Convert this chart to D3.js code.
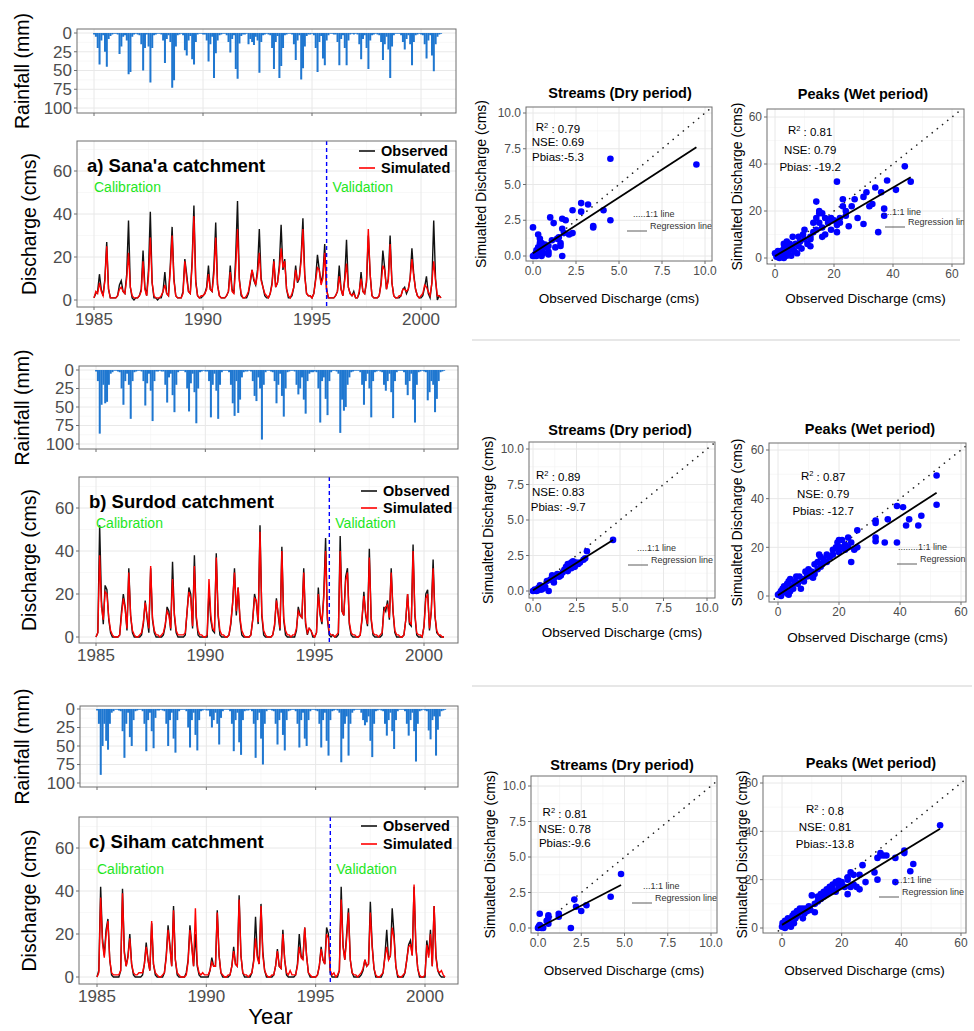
<!DOCTYPE html>
<html>
<head>
<meta charset="utf-8">
<script src="https://cdn.jsdelivr.net/npm/d3@7"></script>
<style>
  body { margin: 0; background: #fff; }
  svg { display: block; }
  text { font-family: "Liberation Sans", Arial, sans-serif; }
</style>
</head>
<body>
<svg id="fig" width="974" height="1031"></svg>
<script>
// ---- data (monthly, Jan 1985 .. Dec 2000, one row per year) ----
const yearTicks = [1985, 1990, 1995, 2000];
const rainTicks = [0, 25, 50, 75, 100];
const qTicks = [0, 20, 40, 60];
const splitYear = 1995.67;

const sanaaRain = [
  2,5,20,42,10,3,25,45,8,4,2,1,  1,2,28,18,5,3,10,55,52,5,2,1,
  2,3,15,50,20,2,18,66,20,3,2,1,  1,2,10,40,8,3,12,73,63,18,3,2,
  1,3,23,30,10,4,35,42,12,2,1,1,  2,2,10,38,15,5,60,27,10,3,2,1,
  1,3,12,26,8,3,48,61,14,4,2,2,  1,15,8,12,16,5,10,53,12,3,2,1,
  2,3,20,48,12,4,60,44,20,3,2,1,  1,2,15,36,10,3,62,47,18,4,2,2,
  1,3,20,52,12,4,34,43,10,3,1,1,  2,2,12,43,8,3,20,43,10,2,1,2,
  1,2,15,35,8,3,20,48,10,3,2,1,  2,3,12,36,15,5,22,60,18,3,1,1,
  1,3,12,22,8,3,15,43,12,3,2,1,  2,3,15,34,10,3,30,51,15,5,2,1
];
const sanaaObs = [
  1,3,4,12,5,2,10,27,5,1,1,1,  1,2,7,9,4,3,12,37,6,1,0,1,
  1,2,5,23,6,2,14,41,8,1,1,0,  1,1,4,13,3,2,16,34,10,2,1,1,
  1,4,19,12,4,3,18,44,9,2,1,1,  2,3,6,16,5,4,15,36,7,2,1,1,
  1,2,4,16,5,3,20,46,10,2,1,1,  1,3,8,14,9,7,14,33,10,6,2,1,
  1,3,8,19,6,8,16,35,14,19,5,1,  1,2,6,16,8,10,20,38,12,3,2,2,
  1,3,10,21,14,8,12,26,5,1,1,1,  1,2,4,16,5,2,10,28,6,3,2,4,
  1,1,3,13,4,3,8,30,12,2,1,1,  1,2,8,23,15,5,10,30,8,2,1,1,
  1,2,5,6,3,5,10,24,12,5,2,1,  1,2,6,11,3,1,8,37,10,0,2,1
];
const sanaaSim = [
  1,4,3,8,4,2,9,25,5,1,1,1,  1,2,5,6,4,3,10,22,6,2,1,1,
  1,2,4,18,5,2,11,29,8,2,1,1,  1,2,4,7,3,2,14,30,9,2,1,1,
  1,3,18,10,4,3,16,39,8,2,1,2,  2,3,5,12,5,4,12,29,7,2,1,1,
  1,2,4,13,4,3,15,33,9,3,1,1,  2,4,9,14,10,7,12,22,9,6,3,2,
  1,3,7,18,6,8,14,24,15,18,5,2,  1,3,6,14,9,10,18,33,11,3,2,2,
  1,3,9,15,14,7,10,22,5,1,1,1,  1,2,4,11,5,2,9,17,6,3,2,3,
  1,1,4,10,4,3,9,33,12,2,1,1,  1,2,7,16,14,5,9,26,8,2,1,1,
  2,2,5,5,4,5,10,19,11,5,2,1,  2,3,7,6,4,2,8,18,9,2,2,1
];

const surdodRain = [
  2,15,86,47,20,45,43,20,5,3,1,1,  2,3,25,47,15,5,20,66,15,3,2,1,
  1,2,15,48,18,5,28,69,15,2,2,1,  2,2,20,44,10,5,34,57,20,3,1,1,
  1,3,25,56,18,5,30,72,25,3,2,1,  2,2,15,64,20,5,28,66,20,3,1,1,
  1,3,20,45,62,15,58,40,10,3,2,2,  1,2,15,35,42,10,25,94,20,3,1,1,
  2,3,15,45,20,5,35,63,25,3,2,1,  1,2,20,33,25,10,40,59,15,5,3,3,
  2,3,25,71,15,10,39,61,15,3,1,1,  2,5,85,40,55,50,20,10,3,2,1,1,
  1,3,20,47,15,5,25,64,15,3,2,1,  2,3,20,28,15,5,30,65,15,3,1,1,
  1,3,20,34,15,5,40,71,20,3,2,1,  2,3,41,30,15,20,57,39,15,3,2,1
];
const surdodObs = [
  0,2,52,17,6,24,22,8,2,0,0,0,  0,1,12,20,14,3,32,10,2,0,0,0,
  0,1,6,17,9,2,32,8,2,0,0,0,  0,1,5,14,12,3,35,10,2,0,0,0,
  0,1,12,23,20,4,38,9,1,0,0,0,  0,0,22,8,3,2,39,10,1,0,0,0,
  0,1,6,16,32,10,23,8,1,0,0,0,  0,1,8,20,16,6,52,10,1,0,0,0,
  0,1,5,18,10,3,42,8,1,0,0,0,  0,0,3,14,10,9,32,6,1,4,3,0,
  0,2,23,10,6,20,46,8,1,0,1,0,  0,1,47,12,10,28,32,6,1,0,0,0,
  0,1,8,21,10,5,41,8,1,0,0,0,  0,1,14,12,17,8,32,12,2,0,0,0,
  0,1,8,20,6,5,43,10,1,0,0,0,  5,20,22,3,12,36,10,2,1,0,0,0
];
const surdodSim = [
  0,2,38,14,8,21,20,9,3,1,0,0,  0,1,10,18,13,4,30,10,3,1,0,0,
  1,2,7,16,10,4,33,9,3,1,1,0,  1,2,6,12,10,4,27,11,3,1,1,1,
  1,2,12,21,18,5,33,10,3,1,1,0,  0,1,27,10,4,3,37,11,3,1,1,0,
  0,1,7,16,30,12,23,9,3,1,0,0,  0,1,8,18,17,7,49,11,3,1,0,0,
  0,1,6,17,11,4,40,9,3,1,1,0,  1,1,4,12,10,9,30,7,2,4,3,1,
  0,2,20,11,7,18,40,9,2,1,1,0,  1,2,40,12,10,26,30,7,2,1,1,0,
  0,1,9,19,11,6,37,9,2,1,1,0,  1,2,12,14,15,9,30,12,3,1,1,0,
  0,1,8,20,7,6,40,11,2,1,1,0,  5,18,20,4,12,32,10,3,1,1,0,0
];

const sihamRain = [
  2,20,89,50,20,43,55,20,5,3,1,1,  2,3,30,66,20,5,38,50,15,3,2,1,
  1,3,20,57,15,5,30,53,12,2,2,1,  2,3,20,50,15,5,40,59,15,3,1,1,
  1,3,25,52,15,5,35,56,15,3,2,1,  2,2,10,25,15,5,20,48,12,3,1,1,
  1,3,20,57,15,5,45,62,15,3,2,2,  1,3,20,66,15,5,40,75,20,3,1,1,
  2,3,20,48,15,5,35,56,15,3,2,1,  1,3,20,52,15,5,40,50,15,3,1,1,
  2,3,20,52,15,5,43,63,15,3,2,1,  2,5,72,40,20,10,63,20,5,2,1,1,
  1,5,15,22,18,10,43,65,20,3,2,1,  2,3,20,36,15,5,30,54,15,3,1,1,
  1,3,20,36,15,5,30,71,20,3,2,1,  2,3,29,41,15,10,63,28,10,3,2,1
];
const sihamObs = [
  0,3,42,18,10,22,27,8,1,0,0,0,  0,3,41,12,5,10,20,6,1,0,0,0,
  0,1,6,16,8,3,25,6,1,0,0,0,  0,2,10,24,15,5,33,8,1,0,0,0,
  0,2,8,24,15,5,20,5,1,0,0,0,  0,0,3,9,5,5,31,10,2,0,0,0,
  0,1,5,14,6,5,38,10,2,0,0,0,  0,2,8,28,10,6,34,12,3,0,0,0,
  0,1,5,13,5,4,22,8,1,0,0,0,  0,1,6,20,10,8,23,10,2,0,0,0,
  0,1,5,14,8,6,23,20,2,0,0,0,  0,3,42,15,8,20,32,8,2,0,0,0,
  0,1,3,8,5,6,35,15,4,0,0,0,  0,2,10,22,8,10,32,20,5,0,0,0,
  0,2,8,15,17,10,42,14,4,0,0,0,  0,17,10,22,5,33,10,3,1,0,0,0
];
const sihamSim = [
  0,2,37,16,9,20,26,8,2,1,1,1,  1,3,39,11,5,9,18,6,2,1,1,2,
  2,2,6,14,8,3,26,6,2,1,0,0,  1,2,9,22,14,5,31,8,2,1,0,0,
  0,1,7,22,14,5,32,6,2,1,2,1,  1,1,3,7,5,5,30,10,2,1,0,0,
  1,1,5,12,6,5,36,10,2,1,1,0,  1,2,7,18,9,6,33,10,3,1,0,0,
  1,1,5,12,5,4,20,8,2,1,3,1,  1,1,5,14,9,8,23,10,2,1,0,0,
  0,1,5,13,8,6,20,18,3,1,2,0,  1,3,36,14,8,18,30,8,2,1,1,0,
  1,2,4,8,5,6,30,14,4,1,0,0,  1,2,9,14,8,10,23,18,5,1,0,0,
  1,2,8,14,15,10,43,14,4,1,0,0,  1,15,9,20,5,33,9,3,2,3,1,0
];

// scatter points [observed, simulated]
const streamsSanaa = [[0,2.0],[0,0],[0.1,0.1],[0.2,0.2],[0.3,1.5],[0.4,0.3],[0.4,1.2],[0.5,0.5],[0.5,0.9],[0.3,0.6],
  [0.2,0],[0.6,0.2],[0.7,0.8],[0.8,0.6],[0.9,0.1],[0.9,0.3],[0.9,0.7],[1.0,2.7],[1.2,2.3],[1.3,0.6],[1.4,1.2],
  [1.5,1.3],[1.6,0.7],[1.6,0.9],[1.7,0],[1.7,1.9],[1.7,2.6],[1.8,1.6],[1.9,2.5],[2.1,1.5],[2.3,3.2],[2.3,1.6],
  [2.8,3.7],[2.8,3.1],[3.2,3.6],[3.5,2.0],[3.5,2.1],[4.1,3.2],[4.5,2.5],[4.5,6.8],[9.5,6.4],[0.1,0.0],[0.3,0.1],
  [0.6,0.7],[0.5,0.0],[0.2,0.4],[1.1,1.1],[0.4,0.9]];
const peaksSanaa = [[0,2],[0.5,0.5],[1,1],[1.5,0],[2,3],[2,1],[2.5,2],[3,4],[3,6],[3.5,2],[4,5],[4,7],[4.5,3],
  [5,6],[5,4],[5.5,1],[6,9],[6,5],[6.5,3],[7,6],[7.5,2],[8,5],[8.5,7],[9,4],[9.5,10],[10,12],[10,8],[1,3],[3,0],
  [4,1],[11,6],[12,9],[12,8],[13,15],[13,11],[14,24],[14,17],[14,12],[15,19],[15,15],[16,13],[16,19],[16,9],
  [17,10],[17,17],[18,15],[19,17],[15,20],[12,5],[21,32.5],[21,14],[21,11],[22,17],[22,15],[23,25],[23,22],
  [24,18],[24,20],[25,13.5],[26,22],[27,25],[28,17],[30,14.5],[30,26],[31,28],[32,22],[33,23],[34,30],[35,11],
  [36,28],[37,21],[37,18],[38,33],[41,29],[44,39],[46,32.5],[20,16],[19,12],[8,9]];
const streamsSurdod = [[0,0],[0.1,0.1],[0.2,0],[0.3,0.2],[0.4,0.4],[0.5,0.3],[0.5,0.1],[0.6,0.2],[0.7,0.3],
  [0.8,0.7],[0.9,0],[1.0,0.8],[1.1,1.1],[1.2,0.6],[1.2,0.9],[1.4,1.2],[1.5,1.0],[1.6,1.1],[1.8,1.5],[1.9,1.7],
  [2.0,1.9],[2.0,1.4],[2.1,1.8],[2.2,2.0],[2.2,1.6],[2.3,2.1],[2.4,1.7],[2.5,2.0],[2.7,2.0],[2.9,2.2],[3.0,2.3],
  [3.1,2.8],[4.6,3.6],[0.3,0.05],[1.7,1.3],[2.6,1.9]];
const peaksSurdod = [[0,0.5],[0.5,1],[1,2],[1.5,3],[2,4],[2.5,3],[3,1],[3,5],[3.5,6],[4,2],[4,7],[4.5,4],[5,3],
  [5.5,6],[6,8],[6.5,5],[7,8],[7.5,3],[8,7],[8.5,6],[9,10],[9.5,8],[10,11],[10,9],[1,0],[2,2],[3.5,0.5],[6,5.5],
  [11,8],[11,10],[12,13],[12,9],[13,14],[13,11],[13.5,17],[14,12],[14.5,13],[15,15],[16,17],[16,14],[17,16],
  [18,19],[18,17],[19,20],[19.5,22],[20,23],[20,18],[11.5,7.5],[14,16],[21,23],[22,21],[22,19],[23,24],[23,20],
  [24,22],[24,14],[25,19],[26,27],[26,20],[20.5,20],[32,31],[32,30],[32,24],[32,22.5],[35,22],[36,31.5],[39,22],
  [39,37],[41,36.5],[42,29],[43,31.5],[46,29],[47,33],[52,49.5],[52,37.5]];
const streamsSiham = [[0,0],[0.05,0.1],[0.1,1.0],[0.1,0.2],[0.2,0.0],[0.2,0.1],[0.3,0],[0.5,0.5],[0.6,0.9],
  [0.6,0.7],[0.6,0.3],[1.2,1.0],[1.2,0.8],[1.9,0.0],[2.1,2.0],[2.2,1.5],[2.5,1.2],[2.8,1.6],[4.2,2.2],[4.8,3.8]];
const peaksSiham = [[0,0.5],[0.2,2],[0.5,1],[1,0],[1,3],[1.5,2],[2,1],[2,4],[2.5,2.5],[3,3],[3.5,5],[4,2],[4,6],
  [4.5,4],[5,5],[5,7],[5.5,6],[6,8],[6.5,7],[7,8],[7,4],[7.5,6],[8,8],[8.5,7],[9,9],[9.5,7.5],[10,13.5],[3,0.5],
  [11,6.5],[11,10],[12,11],[12,13],[13,12],[13,14],[14,15],[14,13],[15,16],[15,14],[16,17],[16,15],[17,16],
  [17,18],[18,15],[18,19],[19,19.5],[19,17],[20,18],[20,19],[21,17],[22,14],[22,21],[22,20],[23,23],[23,17],
  [24,22],[24,18],[25,17],[26,16],[26,22],[27,26],[28,19],[31,23],[32,20],[32,29],[33,31],[33,30],[34,30],
  [35,30],[38,29],[38,19],[41,32],[41,31],[43,23.5],[44,26.5],[53,42.5]];

// regression lines: [intercept, slope]
const regSanaa = [[0.2, 0.78], [0.8, 0.73]];
const regSurdod = [[0.05, 0.77], [0.3, 0.81]];
const regSiham = [[0.0, 0.63], [1.3, 0.75]];
const statsSanaa = [["0.79", "NSE: 0.69", "Pbias:-5.3"], ["0.81", "NSE: 0.79", "Pbias: -19.2"]];
const statsSurdod = [["0.89", "NSE: 0.83", "Pbias: -9.7"], ["0.87", "NSE: 0.79", "Pbias: -12.7"]];
const statsSiham = [["0.81", "NSE: 0.78", "Pbias:-9.6"], ["0.8", "NSE: 0.81", "Pbias:-13.8"]];

// ---- drawing ----
const svg = d3.select("#fig");
const defs = svg.append("defs");
const GRID = "#e8e8e8", GRID2 = "#f3f3f3", BORDER = "#6e6e6e", TICK = "#4d4d4d";
let clipN = 0;

function clipFor(b) {
  const id = "clip" + (clipN++);
  defs.append("clipPath").attr("id", id).append("rect")
    .attr("x", b.l).attr("y", b.t).attr("width", b.r - b.l).attr("height", b.b - b.t);
  return "url(#" + id + ")";
}

function grid(g, b, x, y, xMaj, xMin, yMaj, yMin) {
  const inX = v => x(v) >= b.l && x(v) <= b.r, inY = v => y(v) >= b.t && y(v) <= b.b;
  xMin.filter(inX).forEach(v => g.append("line").attr("x1", x(v)).attr("x2", x(v)).attr("y1", b.t).attr("y2", b.b).attr("stroke", GRID2).attr("stroke-width", 0.6));
  yMin.filter(inY).forEach(v => g.append("line").attr("y1", y(v)).attr("y2", y(v)).attr("x1", b.l).attr("x2", b.r).attr("stroke", GRID2).attr("stroke-width", 0.6));
  xMaj.filter(inX).forEach(v => g.append("line").attr("x1", x(v)).attr("x2", x(v)).attr("y1", b.t).attr("y2", b.b).attr("stroke", GRID).attr("stroke-width", 1));
  yMaj.filter(inY).forEach(v => g.append("line").attr("y1", y(v)).attr("y2", y(v)).attr("x1", b.l).attr("x2", b.r).attr("stroke", GRID).attr("stroke-width", 1));
}

function border(g, b) {
  g.append("rect").attr("x", b.l).attr("y", b.t).attr("width", b.r - b.l).attr("height", b.b - b.t)
    .attr("fill", "none").attr("stroke", BORDER).attr("stroke-width", 1);
}

function yAxisLabels(g, b, y, ticks, fmt, size) {
  ticks.forEach(v => {
    g.append("line").attr("x1", b.l - 3).attr("x2", b.l).attr("y1", y(v)).attr("y2", y(v)).attr("stroke", BORDER);
    g.append("text").attr("x", b.l - 5).attr("y", y(v)).attr("dy", "0.35em").attr("text-anchor", "end")
      .attr("font-size", size).attr("fill", TICK).text(fmt(v));
  });
}

function xAxisLabels(g, b, x, ticks, fmt, size, labels) {
  ticks.forEach(v => {
    g.append("line").attr("x1", x(v)).attr("x2", x(v)).attr("y1", b.b).attr("y2", b.b + 3).attr("stroke", BORDER);
    if (labels) g.append("text").attr("x", x(v)).attr("y", b.b + 4 + size * 0.8).attr("text-anchor", "middle")
      .attr("font-size", size).attr("fill", TICK).text(fmt(v));
  });
}

function vLabel(g, x, y, txt, size) {
  g.append("text").attr("transform", `translate(${x},${y}) rotate(-90)`).attr("dy", "0.35em")
    .attr("text-anchor", "middle").attr("font-size", size).attr("fill", "#000").text(txt);
}

function timePanel(c) {
  const g = svg.append("g");
  const t = i => 1985 + i / 12;
  const x = d3.scaleLinear().domain([1985, 2000]).range(c.xr);
  const monthW = (x(1986) - x(1985)) / 12;

  // rainfall (reversed axis, bars hang from 0)
  const rb = c.rainBox;
  const yR = d3.scaleLinear().domain([0, 100]).range(c.rainY);
  grid(g, rb, x, yR, yearTicks, [1982.5, 1987.5, 1992.5, 1997.5, 2002.5], rainTicks, [12.5, 37.5, 62.5, 87.5]);
  g.append("g").attr("clip-path", clipFor(rb)).selectAll("rect").data(c.rain).join("rect")
    .attr("x", (d, i) => x(t(i)) - monthW * 0.5).attr("width", monthW + 0.2)
    .attr("y", yR(0)).attr("height", d => yR(d) - yR(0)).attr("fill", "#1f77d0");
  border(g, rb);
  yAxisLabels(g, rb, yR, rainTicks, d => d, 17);
  xAxisLabels(g, rb, x, yearTicks, d => d, 17, false);
  vLabel(g, 22, (rb.t + rb.b) / 2, "Rainfall (mm)", 19.5);

  // discharge
  const qb = c.qBox;
  const yQ = d3.scaleLinear().domain([0, 60]).range(c.qY);
  grid(g, qb, x, yQ, yearTicks, [1982.5, 1987.5, 1992.5, 1997.5, 2002.5], qTicks, [10, 30, 50, 70]);
  const pg = g.append("g").attr("clip-path", clipFor(qb));
  const line = d3.line().x((d, i) => x(t(i))).y(d => yQ(d));
  pg.append("path").datum(c.obs).attr("d", line).attr("fill", "none").attr("stroke", "#111").attr("stroke-width", 1.4);
  pg.append("path").datum(c.sim).attr("d", line).attr("fill", "none").attr("stroke", "#ff0000").attr("stroke-width", 1.4);
  pg.append("line").attr("x1", x(splitYear)).attr("x2", x(splitYear)).attr("y1", qb.t).attr("y2", qb.b)
    .attr("stroke", "#0000ff").attr("stroke-width", 1.4).attr("stroke-dasharray", "4,3");
  border(g, qb);
  yAxisLabels(g, qb, yQ, qTicks, d => d, 17);
  xAxisLabels(g, qb, x, yearTicks, d => d, 17, true);
  vLabel(g, 29, (qb.t + qb.b) / 2, "Discharge (cms)", 19.5);

  g.append("text").attr("x", qb.l + 10).attr("y", c.titleY).attr("font-size", 18.5).attr("font-weight", "bold").text(c.title);
  g.append("text").attr("x", x(1985)).attr("y", c.calY).attr("font-size", 14).attr("fill", "#1ee61e").text("Calibration");
  g.append("text").attr("x", x(splitYear) + 6).attr("y", c.calY).attr("font-size", 14).attr("fill", "#1ee61e").text("Validation");
  [["Observed", "#111", c.legY[0]], ["Simulated", "#ff0000", c.legY[1]]].forEach(([lab, col, ly]) => {
    g.append("line").attr("x1", qb.r - 97).attr("x2", qb.r - 81).attr("y1", ly).attr("y2", ly).attr("stroke", col).attr("stroke-width", 1.6);
    g.append("text").attr("x", qb.r - 75).attr("y", ly).attr("dy", "0.35em").attr("font-size", 14.5).attr("font-weight", "bold").text(lab);
  });
  if (c.xTitle) g.append("text").attr("x", (qb.l + qb.r) / 2 + 2).attr("y", c.xTitleY).attr("text-anchor", "middle").attr("font-size", 22).text("Year");
}

function scatterPanel(c) {
  const g = svg.append("g");
  const b = c.box;
  const x = d3.scaleLinear().domain([0, c.max]).range(c.xr);
  const y = d3.scaleLinear().domain([0, c.max]).range(c.yr);
  const step = c.max === 10 ? 2.5 : 20;
  const maj = d3.range(-step, c.max + 2 * step, step);
  const mnr = maj.map(v => v + step / 2);
  grid(g, b, x, y, maj, mnr, maj, mnr);
  const fmt = c.max === 10 ? d3.format(".1f") : d3.format("d");
  const ticks = d3.range(0, c.max + step / 2, step);

  const pg = g.append("g").attr("clip-path", clipFor(b));
  const lo = x.invert(b.l), hi = x.invert(b.r);
  pg.append("line").attr("x1", x(lo)).attr("y1", y(lo)).attr("x2", x(hi)).attr("y2", y(hi))
    .attr("stroke", "#222").attr("stroke-width", 1.6).attr("stroke-linecap", "round").attr("stroke-dasharray", "0.1,6.5");
  pg.selectAll("circle").data(c.pts).join("circle")
    .attr("cx", d => x(d[0])).attr("cy", d => y(d[1])).attr("r", 3.3).attr("fill", "#0000ff");
  const [a, s] = c.reg, xe = d3.extent(c.pts, d => d[0]);
  pg.append("line").attr("x1", x(xe[0])).attr("y1", y(a + s * xe[0])).attr("x2", x(xe[1])).attr("y2", y(a + s * xe[1]))
    .attr("stroke", "#000").attr("stroke-width", 1.8);

  // stats annotation
  const st = c.stats, sx = x(c.statX);
  const r2 = g.append("text").attr("x", sx).attr("y", y(c.statY[0])).attr("dy", "0.35em").attr("text-anchor", "middle").attr("font-size", 11.5);
  r2.append("tspan").text("R");
  r2.append("tspan").attr("font-size", 7.5).attr("dy", "-0.45em").text("2");
  r2.append("tspan").attr("dy", "0.45em").text(" : " + st[0]);
  g.append("text").attr("x", sx).attr("y", y(c.statY[1])).attr("dy", "0.35em").attr("text-anchor", "middle").attr("font-size", 11.5).text(st[1]);
  g.append("text").attr("x", sx).attr("y", y(c.statY[2])).attr("dy", "0.35em").attr("text-anchor", "middle").attr("font-size", 11.5).text(st[2]);

  // in-panel legend
  const lg = g.append("g").attr("clip-path", clipFor(b));
  lg.append("text").attr("x", c.leg[0]).attr("y", c.leg[1]).attr("dy", "0.35em").attr("font-size", 9).attr("fill", "#333").text(c.dots + "1:1 line");
  lg.append("line").attr("x1", c.leg[2]).attr("x2", c.leg[2] + 20).attr("y1", c.leg[3]).attr("y2", c.leg[3]).attr("stroke", "#333").attr("stroke-width", 0.8);
  lg.append("text").attr("x", c.leg[2] + 23).attr("y", c.leg[3] - 5).attr("dy", "0.35em").attr("font-size", 9).attr("fill", "#333").text("Regression line");

  border(g, b);
  yAxisLabels(g, b, y, ticks, fmt, 12);
  xAxisLabels(g, b, x, ticks, fmt, 12, true);
  g.append("text").attr("x", c.titleX).attr("y", c.titleY).attr("text-anchor", "middle").attr("font-size", 14.5).attr("font-weight", "bold").text(c.title);
  g.append("text").attr("x", (b.l + b.r) / 2).attr("y", c.xTitleY).attr("text-anchor", "middle").attr("font-size", 13.5).text("Observed Discharge (cms)");
  vLabel(g, c.yTitleX, (b.t + b.b) / 2, "Simualted Discharge (cms)", 14);
}

// ---- layout ----
timePanel({ title: "a) Sana'a catchment", rain: sanaaRain, obs: sanaaObs, sim: sanaaSim, xr: [94, 421],
  rainBox: { l: 77, t: 29, r: 456, b: 113 }, rainY: [33, 108],
  qBox: { l: 77, t: 141, r: 456, b: 307 }, qY: [300, 171],
  titleY: 172, calY: 192, legY: [151, 168] });
timePanel({ title: "b) Surdod catchment", rain: surdodRain, obs: surdodObs, sim: surdodSim, xr: [96, 424],
  rainBox: { l: 79, t: 366, r: 458, b: 449 }, rainY: [370, 444],
  qBox: { l: 79, t: 477, r: 458, b: 643 }, qY: [637, 508],
  titleY: 508, calY: 528, legY: [491, 508] });
timePanel({ title: "c) Siham catchment", rain: sihamRain, obs: sihamObs, sim: sihamSim, xr: [97, 425],
  rainBox: { l: 80, t: 706, r: 458, b: 787 }, rainY: [709, 783],
  qBox: { l: 79, t: 817, r: 458, b: 984 }, qY: [977, 848],
  titleY: 848, calY: 874, legY: [826, 844], xTitle: true, xTitleY: 1024 });

const sep = svg.append("g").attr("stroke", "#cfcfcf").attr("stroke-width", 1);
sep.append("line").attr("x1", 472).attr("x2", 960).attr("y1", 340).attr("y2", 340);
sep.append("line").attr("x1", 472).attr("x2", 972).attr("y1", 686).attr("y2", 686);

scatterPanel({ title: "Streams (Dry period)", max: 10, pts: streamsSanaa, reg: regSanaa[0], stats: statsSanaa[0],
  box: { l: 526, t: 107, r: 712, b: 261 }, xr: [533, 705], yr: [256, 113],
  statX: 1.45, statY: [9.0, 8.0, 6.9], dots: ".....", leg: [633, 214, 627, 231],
  titleX: 620, titleY: 98, xTitleY: 303, yTitleX: 481 });
scatterPanel({ title: "Peaks (Wet period)", max: 60, pts: peaksSanaa, reg: regSanaa[1], stats: statsSanaa[1],
  box: { l: 767, t: 109, r: 964, b: 264 }, xr: [775, 952], yr: [258, 117],
  statX: 11.9, statY: [54.5, 46, 38.7], dots: "....", leg: [882, 212, 885, 227],
  titleX: 863, titleY: 99, xTitleY: 303, yTitleX: 737 });
scatterPanel({ title: "Streams (Dry period)", max: 10, pts: streamsSurdod, reg: regSurdod[0], stats: statsSurdod[0],
  box: { l: 529, t: 442, r: 715, b: 598 }, xr: [533, 707], yr: [591, 449],
  statX: 1.45, statY: [8.15, 7.0, 5.9], dots: "....", leg: [637, 548, 628, 565],
  titleX: 620, titleY: 435, xTitleY: 637, yTitleX: 488 });
scatterPanel({ title: "Peaks (Wet period)", max: 60, pts: peaksSurdod, reg: regSurdod[1], stats: statsSurdod[1],
  box: { l: 769, t: 443, r: 966, b: 602 }, xr: [778, 961], yr: [596, 450],
  statX: 14.8, statY: [49.5, 42, 35], dots: "........", leg: [898, 547, 897, 564],
  titleX: 870, titleY: 434, xTitleY: 642, yTitleX: 737 });
scatterPanel({ title: "Streams (Dry period)", max: 10, pts: streamsSiham, reg: regSiham[0], stats: statsSiham[0],
  box: { l: 531, t: 776, r: 717, b: 933 }, xr: [538, 711], yr: [928, 786],
  statX: 1.55, statY: [8.15, 7.0, 6.0], dots: "...", leg: [643, 886, 632, 903],
  titleX: 622, titleY: 770, xTitleY: 975, yTitleX: 490 });
scatterPanel({ title: "Peaks (Wet period)", max: 60, pts: peaksSiham, reg: regSiham[1], stats: statsSiham[1],
  box: { l: 763, t: 776, r: 966, b: 933 }, xr: [782, 961], yr: [928, 783],
  statX: 14.4, statY: [49.3, 41.7, 34.7], dots: "...", leg: [895, 880, 879, 897],
  titleX: 871, titleY: 768, xTitleY: 975, yTitleX: 742 });
</script>
</body>
</html>
